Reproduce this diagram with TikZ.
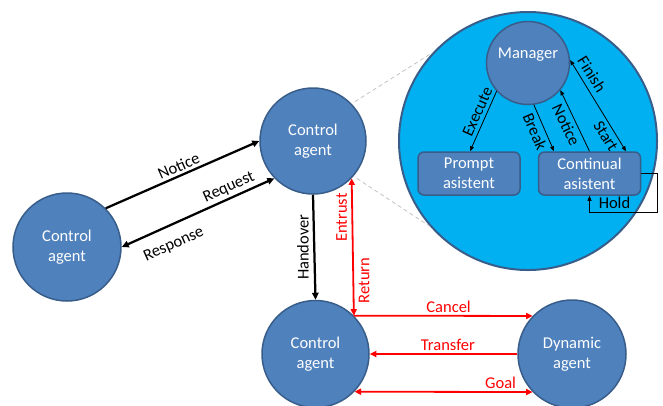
\documentclass[tikz,border=0pt]{standalone}
\usepackage{fontspec}
\setmainfont{Carlito}
\usetikzlibrary{arrows.meta}
\definecolor{agentfill}{HTML}{4F81BD}
\definecolor{agentline}{HTML}{385D8A}
\definecolor{zoomfill}{HTML}{00B0F0}
\definecolor{redline}{HTML}{FF0000}
\definecolor{dashgray}{HTML}{BFBFBF}
\begin{document}
\begin{tikzpicture}[x=1pt,y=-1pt,
  txt/.style={font=\fontsize{16.5}{20}\selectfont},
  agent/.style={circle, fill=agentfill, draw=agentline, line width=1.5pt, text=white, inner sep=0pt, align=center, txt},
  agenttext/.style={text=white, txt},
  zoomc/.style={circle, fill=zoomfill, draw=agentline, line width=2pt, inner sep=0pt},
  asst/.style={rectangle, rounded corners=6pt, fill=agentfill, draw=agentline, line width=1.5pt, text=white, inner sep=0pt, align=center, txt, minimum width=102pt, minimum height=43pt},
  lbl/.style={txt, text=black, inner sep=2.5pt},
  ilbl/.style={txt, text=black, inner sep=3.5pt},
  vlbl/.style={txt, text=black, inner sep=4.5pt},
  rlbl/.style={txt, text=redline, inner sep=2.5pt},
  rvlbl/.style={txt, text=redline, inner sep=4.5pt},
  blk/.style={draw=black, line width=2.25pt},
  red/.style={draw=redline, line width=1.8pt},
  fine/.style={draw=black, line width=0.8pt},
  bigtip/.style={-{Triangle[length=7pt,width=6.5pt]}},
  bigtips/.style={{Triangle[length=7pt,width=6.5pt]}-{Triangle[length=7pt,width=6.5pt]}},
  redtip/.style={-{Triangle[length=6.5pt,width=6pt]}},
  redtips/.style={{Triangle[length=6.5pt,width=6pt]}-{Triangle[length=6.5pt,width=6pt]}},
  smalltip/.style={-{Triangle[length=5pt,width=4pt]}},
  smalltips/.style={{Triangle[length=5pt,width=4pt]}-{Triangle[length=5pt,width=4pt]}},
  zoomline/.style={draw=dashgray, line width=0.75pt, dash pattern=on 4pt off 3pt}
]
\useasboundingbox (0,0) rectangle (663,405);

% zoom circle
\node[zoomc, minimum size=258pt] (Z) at (528,141) {};

% agents
\node[agent, minimum size=108pt] (L) at (67,247) {Control\\agent};
\node[agent, minimum size=106pt] (T) at (313,141) {Control\\agent};
\node[agent, minimum size=107pt] (B) at (315.5,354) {Control\\agent};
\node[agent, minimum size=108pt] (D) at (572,354) {Dynamic\\agent};

% inner nodes
\node[agent, minimum size=83pt, label={[agenttext, yshift=8pt]center:Manager}] (M) at (528,63) {};
\node[asst] (P) at (469,173.5) {Prompt\\asistent};
\node[asst] (C) at (589.5,173.5) {Continual\\asistent};

% zoom lines
\draw[zoomline, shorten <=4pt] (T.44) -- (Z.137);
\draw[zoomline, shorten <=4pt] (T.319) -- (Z.221);

% outer black connectors
\draw[blk, bigtip] (L.45) -- node[lbl, midway, above, sloped] {Notice} (T.180);
\draw[blk, bigtips] (L.0) -- node[lbl, pos=0.29, below=9pt, sloped] {Response}
                              node[lbl, pos=0.73, above, sloped] {Request} (T.224);
\draw[blk, bigtip] (T.270) -- node[vlbl, midway, rotate=90, anchor=south] {Handover} (B.90);

% red connectors
\draw[red, redtips] (B.45) -- node[rvlbl, pos=0.715, rotate=90, anchor=south] {Entrust}
                               node[rvlbl, pos=0.255, rotate=90, anchor=north] {Return} (T.316);
\draw[red, redtip] (B.45) -- node[rlbl, pos=0.53, above] {Cancel} (D.136);
\draw[red, redtip] (D.180) -- node[rlbl, pos=0.47, above] {Transfer} (B.0);
\draw[red, redtips] (B.316) -- node[rlbl, pos=0.82, above] {Goal} (D.224);

% inner connectors
\draw[fine, smalltip] (M.222) -- node[ilbl, pos=0.4, above, sloped] {Execute} ([xshift=1pt]P.north);
\draw[fine, smalltip] (M.278) -- node[ilbl, midway, below, sloped] {Break} ([xshift=-35.5pt]C.north);
\draw[fine, smalltip] (C.north) -- node[ilbl, midway, below, sloped] {Notice} (M.320);
\draw[fine, smalltips] (M.4) -- node[ilbl, inner sep=5pt, pos=0.22, above, sloped] {Finish}
                               node[ilbl, pos=0.78, below, sloped] {Start} ([xshift=36.5pt]C.north);

% hold loop
\coordinate (h1) at (657,173.5);
\coordinate (h2) at (657,212);
\coordinate (h3) at (589.5,212);
\draw[fine, smalltip] (C.east) -- (h1) -- (h2) -- node[lbl, pos=0.63, above] {Hold} (h3) -- (C.south);
\end{tikzpicture}
\end{document}
